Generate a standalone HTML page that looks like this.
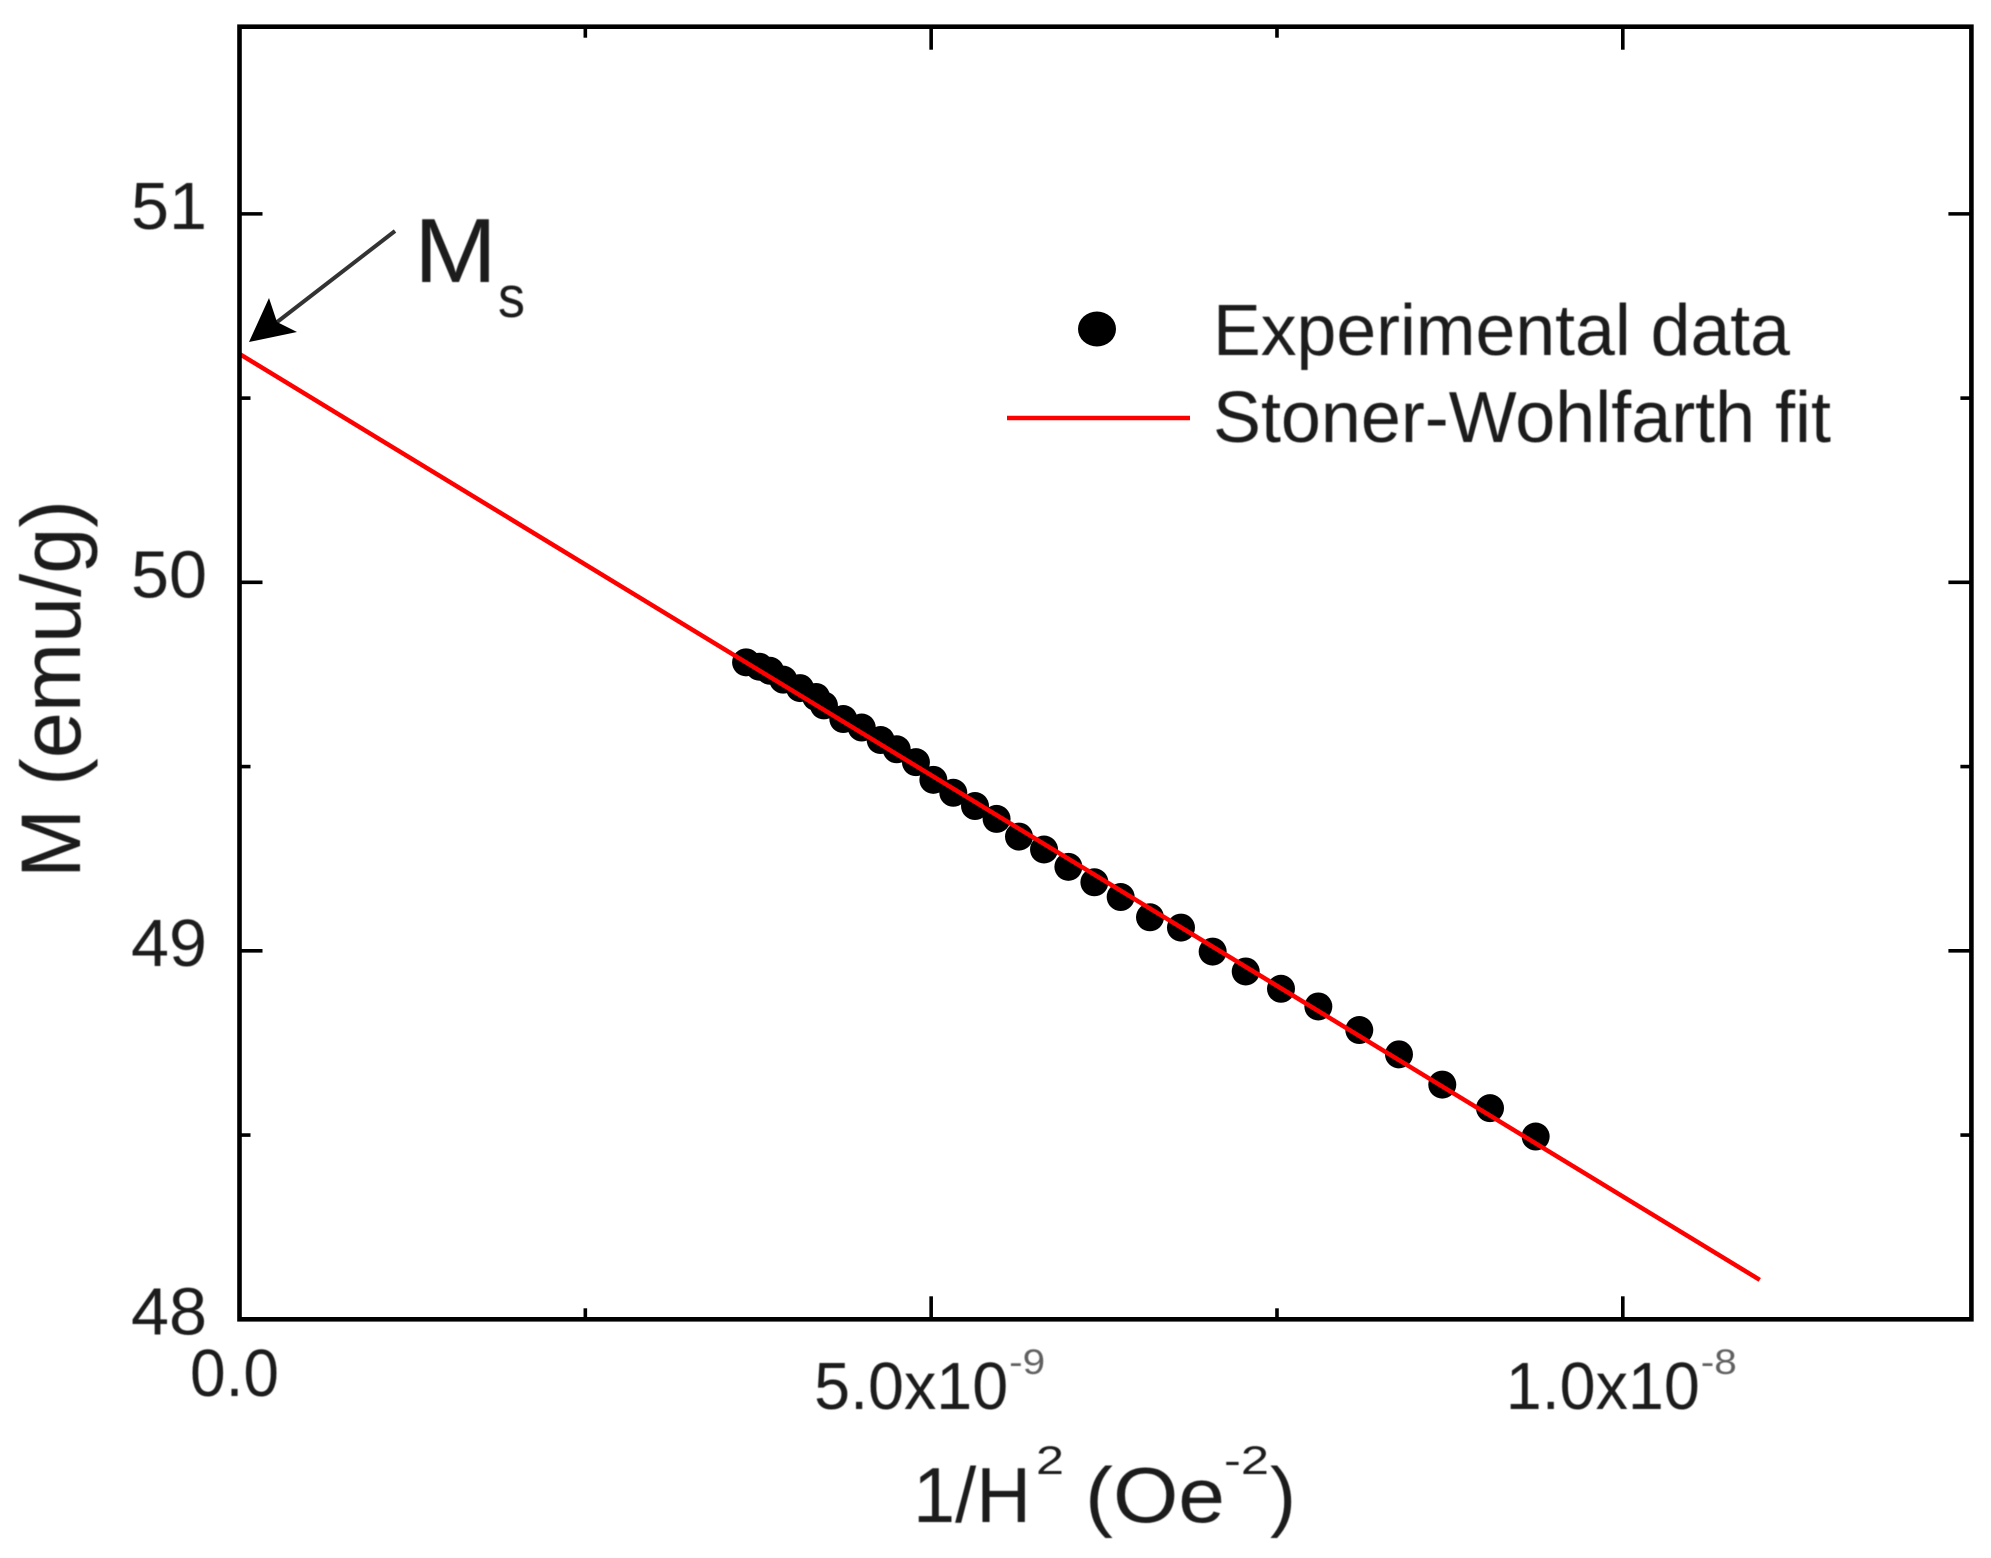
<!DOCTYPE html>
<html lang="en">
<head>
<meta charset="utf-8">
<title>M vs 1/H² Stoner-Wohlfarth fit</title>
<style>
html,body{margin:0;padding:0;background:#fff;}
svg{display:block;}
text{font-family:"Liberation Sans",sans-serif;fill:#1a1a1a;filter:url(#soft);}
</style>
</head>
<body>
<svg id="chart" xmlns="http://www.w3.org/2000/svg" width="1991" height="1558" viewBox="0 0 1991 1558">
  <defs>
    <filter id="soft" x="-10%" y="-20%" width="120%" height="140%"><feGaussianBlur stdDeviation="0.6"/></filter>
  </defs>
  <rect x="0" y="0" width="1991" height="1558" fill="#fff"/>
  <g id="ticks"></g>
  <g id="tick-labels"></g>
  <g id="points"></g>
  <polyline id="fit" fill="none" stroke="#ff0000" stroke-width="4.5"/>
  <rect id="frame" fill="none" stroke="#000" stroke-width="4.6"/>

  <text transform="translate(80,878) rotate(-90)" font-size="84" textLength="378" lengthAdjust="spacingAndGlyphs">M (emu/g)</text>

  <g>
    <text x="913" y="1522" font-size="78" textLength="118" lengthAdjust="spacingAndGlyphs">1/H</text>
    <text x="1036" y="1474" font-size="40" textLength="28" lengthAdjust="spacingAndGlyphs">2</text>
    <text x="1085" y="1522" font-size="78" textLength="140" lengthAdjust="spacingAndGlyphs">(Oe</text>
    <text x="1224" y="1474" font-size="40" textLength="45" lengthAdjust="spacingAndGlyphs">-2</text>
    <text x="1270" y="1522" font-size="78" textLength="26" lengthAdjust="spacingAndGlyphs">)</text>
  </g>

  <g>
    <line x1="395" y1="231" x2="272" y2="326" stroke="#333" stroke-width="4"/>
    <polygon points="249,342 269,298 277,322 297,332" fill="#000"/>
    <text x="414" y="282" font-size="91" textLength="83" lengthAdjust="spacingAndGlyphs">M</text>
    <text x="498" y="317" font-size="58" textLength="27" lengthAdjust="spacingAndGlyphs">s</text>
  </g>

  <g>
    <ellipse cx="1097" cy="329" rx="19" ry="17.5" fill="#000"/>
    <text x="1213" y="355" font-size="72" textLength="577" lengthAdjust="spacingAndGlyphs">Experimental data</text>
    <line x1="1007" y1="418" x2="1190" y2="418" stroke="#ff0000" stroke-width="4.5"/>
    <text x="1213" y="442" font-size="72" textLength="618" lengthAdjust="spacingAndGlyphs">Stoner-Wohlfarth fit</text>
  </g>
</svg>
<script>
// Data, x in units of 1e-9 Oe^-2, y in emu/g
const dataX = [3.662,3.758,3.835,3.931,4.052,4.168,4.225,4.365,4.498,4.635,4.751,4.890,5.016,5.160,5.317,5.473,5.635,5.816,5.992,6.180,6.370,6.582,6.806,7.035,7.274,7.529,7.799,8.095,8.382,8.695,9.040,9.370];
const dataY = [49.783,49.771,49.760,49.736,49.713,49.689,49.666,49.629,49.606,49.572,49.547,49.512,49.464,49.429,49.393,49.358,49.310,49.275,49.228,49.186,49.146,49.091,49.063,48.998,48.944,48.897,48.849,48.785,48.719,48.637,48.573,48.496];
const fitX = [0,10.99];
const fitY = [50.62,48.107];
const xMajorTicks = [0,5,10];
const xMinorTicks = [2.5,7.5];
const yMajorTicks = [48,49,50,51];
const yMinorTicks = [48.5,49.5,50.5];
const xTickLabels = ["0.0","5.0x10","1.0x10"];
const xTickExponents = ["","-9","-8"];
const yTickLabels = ["48","49","50","51"];
const xDomain = [0,12.52];
const yDomain = [48,51.508];

const plotLeft = 239.5, plotRight = 1971.4, plotTop = 26.7, plotBottom = 1319.3;
const NS = 'http://www.w3.org/2000/svg';
function xScale(v){ return plotLeft + (v - xDomain[0]) / (xDomain[1] - xDomain[0]) * (plotRight - plotLeft); }
function yScale(v){ return plotBottom - (v - yDomain[0]) / (yDomain[1] - yDomain[0]) * (plotBottom - plotTop); }

const frame = document.getElementById('frame');
frame.setAttribute('x', plotLeft);
frame.setAttribute('y', plotTop);
frame.setAttribute('width', plotRight - plotLeft);
frame.setAttribute('height', plotBottom - plotTop);

const tickGroup = document.getElementById('ticks');
function tick(x1,y1,x2,y2,name){
  const l = document.createElementNS(NS,'line');
  l.setAttribute('x1',x1); l.setAttribute('y1',y1);
  l.setAttribute('x2',x2); l.setAttribute('y2',y2);
  l.setAttribute('stroke','#000');
  l.setAttribute('stroke-width','3.6');
  
  
  tickGroup.appendChild(l);
}
function xTicks(list,len,kind){
  list.forEach(v=>{
    const x = xScale(v);
    tick(x,plotBottom,x,plotBottom-len,'x-'+kind+'-tick-bottom');
    tick(x,plotTop,x,plotTop+len,'x-'+kind+'-tick-top');
  });
}
function yTicks(list,len,kind){
  list.forEach(v=>{
    const y = yScale(v);
    tick(plotLeft,y,plotLeft+len,y,'y-'+kind+'-tick-left');
    tick(plotRight,y,plotRight-len,y,'y-'+kind+'-tick-right');
  });
}
xTicks(xMajorTicks,23,'major');
xTicks(xMinorTicks,11,'minor');
yTicks(yMajorTicks,23,'major');
yTicks(yMinorTicks,11,'minor');

const labelGroup = document.getElementById('tick-labels');
function label(str,x,y,size,len,anchor,name){
  const t = document.createElementNS(NS,'text');
  t.textContent = str;
  t.setAttribute('x',x); t.setAttribute('y',y);
  t.setAttribute('font-size',size);
  t.setAttribute('text-anchor',anchor);
  t.setAttribute('textLength',len);
  t.setAttribute('lengthAdjust','spacingAndGlyphs');
  
  
  labelGroup.appendChild(t);
  return t;
}
xMajorTicks.forEach((v,i)=>{
  const x = xScale(v);
  if (xTickExponents[i]) {
    label(xTickLabels[i], x-117, 1409, 67, 194, 'start', 'x-tick-label');
    const e = label(xTickExponents[i], x+78, 1374, 35, 36, 'start', 'x-tick-label-exponent');
    e.setAttribute('fill-opacity','0.7');
  } else {
    label(xTickLabels[i], x-5, 1396, 67, 89, 'middle', 'x-tick-label');
  }
});
yMajorTicks.forEach((v,i)=>{
  label(yTickLabels[i], 131, yScale(v)+15, 67, 76, 'start', 'y-tick-label');
});

const pointGroup = document.getElementById('points');
dataX.forEach((v,i)=>{
  const c = document.createElementNS(NS,'circle');
  c.setAttribute('cx',xScale(v));
  c.setAttribute('cy',yScale(dataY[i]));
  c.setAttribute('r','14');
  c.setAttribute('fill','#000');
  
  
  pointGroup.appendChild(c);
});

document.getElementById('fit').setAttribute('points',
  fitX.map((v,i)=>xScale(v)+','+yScale(fitY[i])).join(' '));
</script>
</body>
</html>
